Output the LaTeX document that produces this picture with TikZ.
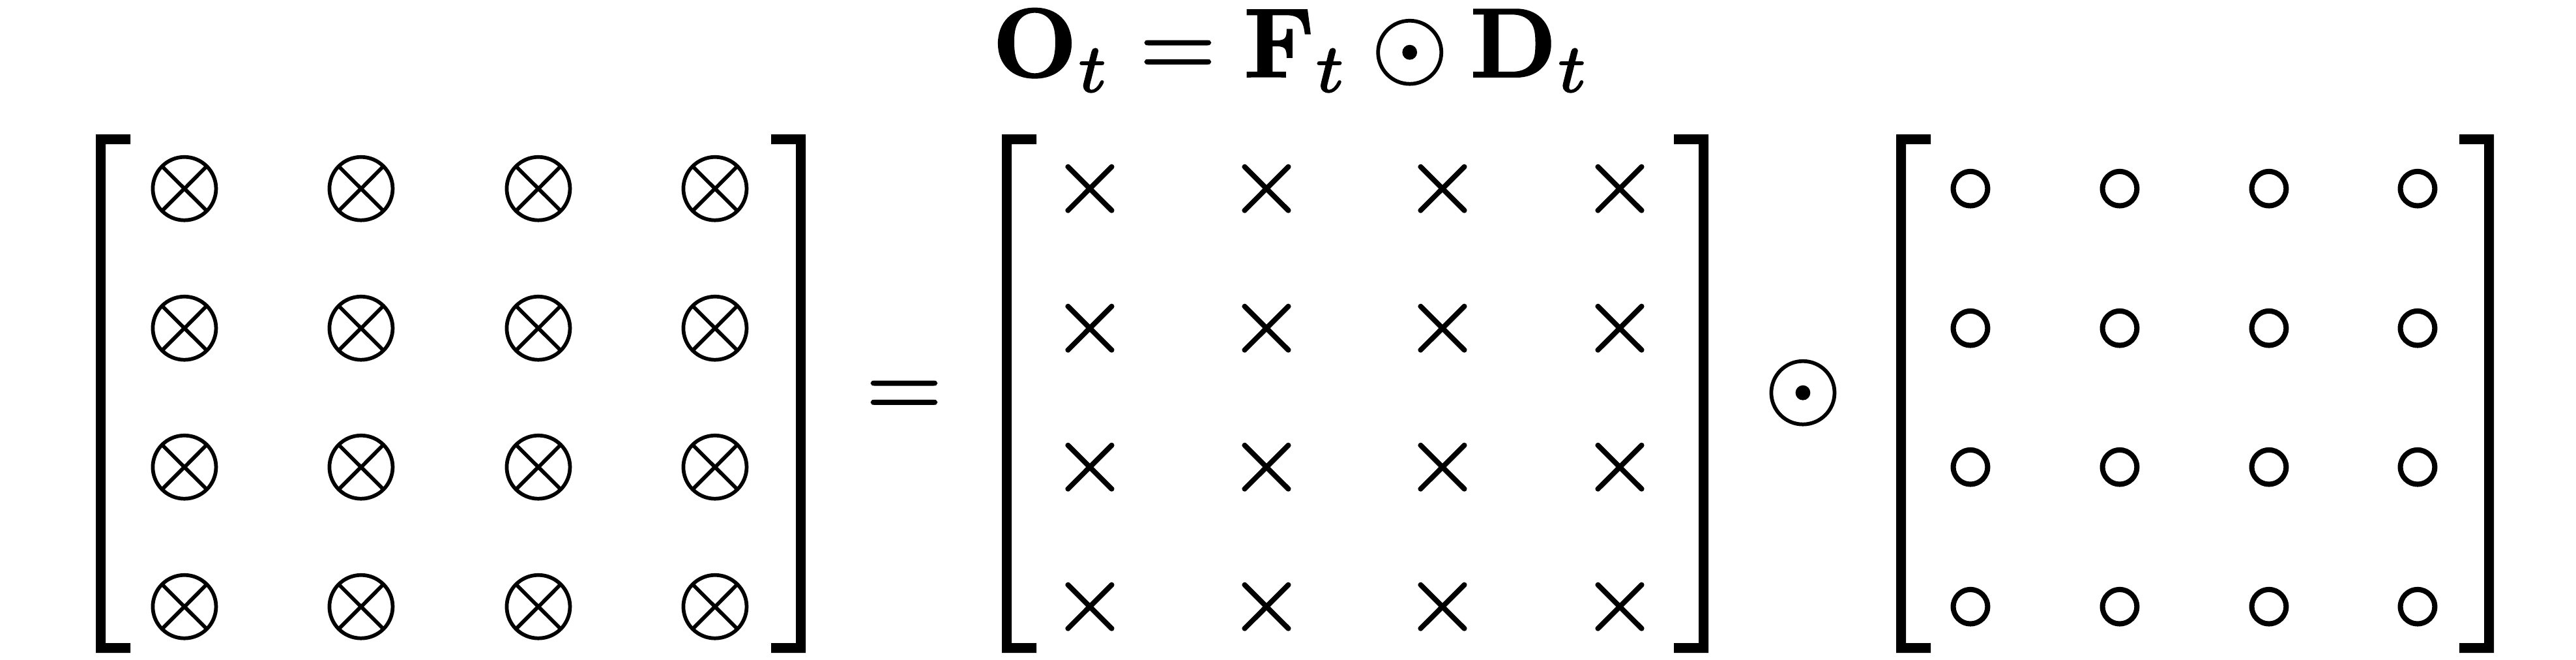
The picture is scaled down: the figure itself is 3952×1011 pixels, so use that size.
\documentclass[tikz,border=0pt]{standalone}
\usepackage{amsmath}
\newcommand{\mythickon}{\special{pdf:literal direct 2 Tr 0.13 w}}
\newcommand{\mythickoff}{\special{pdf:literal direct 0 Tr}}
\tikzset{
  sym/.style={anchor=base, inner sep=0pt, outer sep=0pt, font=\fontsize{10pt}{12pt}\selectfont, scale=4.3,
    execute at begin node=\mythickon, execute at end node=\mythickoff},
  brk/.style={fill=black, draw=none},
}
\newcommand{\myleftbrk}[1]{%
  \fill[brk] (#1,206) -- ++(53,0) -- ++(0,15) -- ++(-38,0) -- (#1+15,986) -- ++(38,0) -- ++(0,15) -- (#1,1001) -- cycle;}
\newcommand{\myrightbrk}[1]{%
  \fill[brk] (#1,206) -- ++(-53,0) -- ++(0,15) -- ++(38,0) -- (#1-15,986) -- ++(-38,0) -- ++(0,15) -- (#1,1001) -- cycle;}
\begin{document}
\begin{tikzpicture}[x=0.01cm,y=-0.01cm]
\useasboundingbox (0,0) rectangle (3952,1011);
% title
\node[sym] (title) at (1982,118) {$\mathbf{O}_t = \mathbf{F}_t \odot \mathbf{D}_t$};
% operators
\node[sym] (eq) at (1387,640) {$=$};
\node[sym] (had) at (2766,640) {$\odot$};
% brackets
\myleftbrk{147}
\myrightbrk{1236}
\myleftbrk{1537}
\myrightbrk{2621}
\myleftbrk{2909}
\myrightbrk{3826}
% entries
\foreach \r/\y in {1/327,2/541,3/754,4/968}{
  \foreach \c/\xa/\xb/\xc in {1/283/1672/3023,2/554/1943/3252,3/826/2213/3481,4/1097/2485/3709}{
    \node[sym] (o-\r-\c) at (\xa,\y) {$\otimes$};
    \node[sym] (f-\r-\c) at (\xb,\y) {$\times$};
    \node[sym] (d-\r-\c) at (\xc,\y) {$\circ$};
  }
}
\end{tikzpicture}
\end{document}
